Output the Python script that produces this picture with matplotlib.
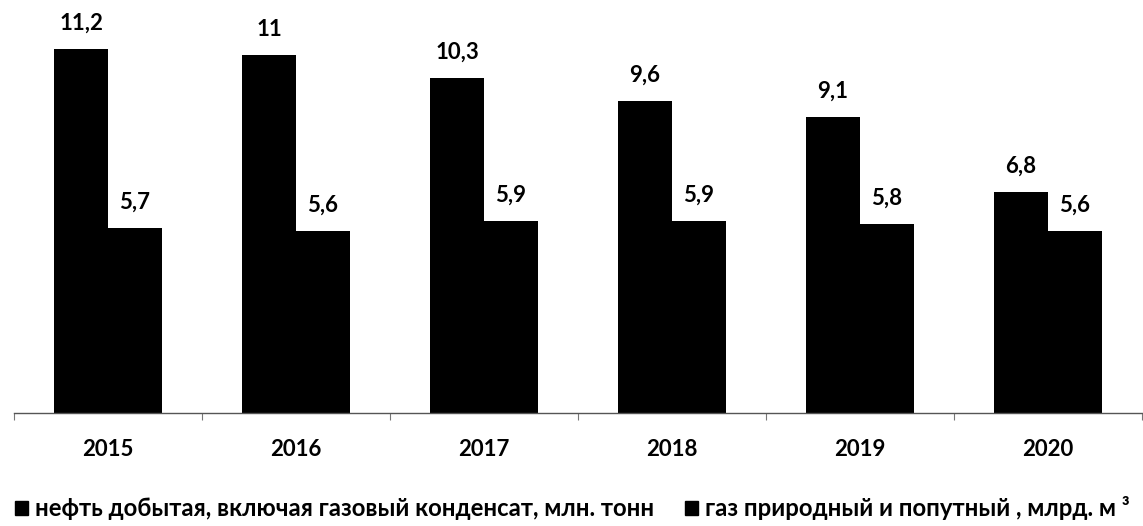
import numpy as np
import matplotlib.pyplot as plt
from matplotlib.patches import Patch

plt.rcParams['font.family'] = ['Lato', 'DejaVu Sans']

years = ['2015', '2016', '2017', '2018', '2019', '2020']
oil = [11.2, 11, 10.3, 9.6, 9.1, 6.8]
gas = [5.7, 5.6, 5.9, 5.9, 5.8, 5.6]
oil_label = 'нефть добытая, включая газовый конденсат, млн. тонн'
gas_label = 'газ природный и попутный , млрд. м ³'

fig = plt.figure(figsize=(11.43, 5.26), dpi=100)
ax = fig.add_axes([14 / 1143, 113 / 526, 1128 / 1143, 413 / 526])

x = np.arange(len(years))
w = 0.287
b1 = ax.bar(x - w / 2, oil, w, color='black')
b2 = ax.bar(x + w / 2, gas, w, color='black')

fmt = lambda v: f'{v:g}'.replace('.', ',')
ax.bar_label(b1, labels=[fmt(v) for v in oil], padding=11, fontsize=16, fontweight='bold')
ax.bar_label(b2, labels=[fmt(v) for v in gas], padding=11, fontsize=16, fontweight='bold')

ax.set_xlim(-0.5, len(years) - 0.5)
ax.set_ylim(0, 12.7)
ax.set_yticks([])
for s in ['top', 'right', 'left']:
    ax.spines[s].set_visible(False)
ax.spines['bottom'].set_color('#555555')
ax.spines['bottom'].set_linewidth(1)

# подписи лет по центру, засечки на границах категорий
ax.set_xticks(x)
ax.set_xticklabels(years, fontsize=16, fontweight='bold')
ax.tick_params(axis='x', which='major', length=0, pad=19)
ax.set_xticks(np.arange(-0.5, len(years)), minor=True)
ax.tick_params(axis='x', which='minor', length=5, color='#777777', width=0.8)

handles = [Patch(color='black', label=oil_label), Patch(color='black', label=gas_label)]
fig.legend(handles=handles, loc='lower left', bbox_to_anchor=(-0.006, -0.03), ncol=2,
           frameon=False, handlelength=0.55, handleheight=0.55,
           handletextpad=0.3, columnspacing=1.3, prop={'weight': 'bold', 'size': 17.2})

fig.savefig('out.png', dpi=100)
